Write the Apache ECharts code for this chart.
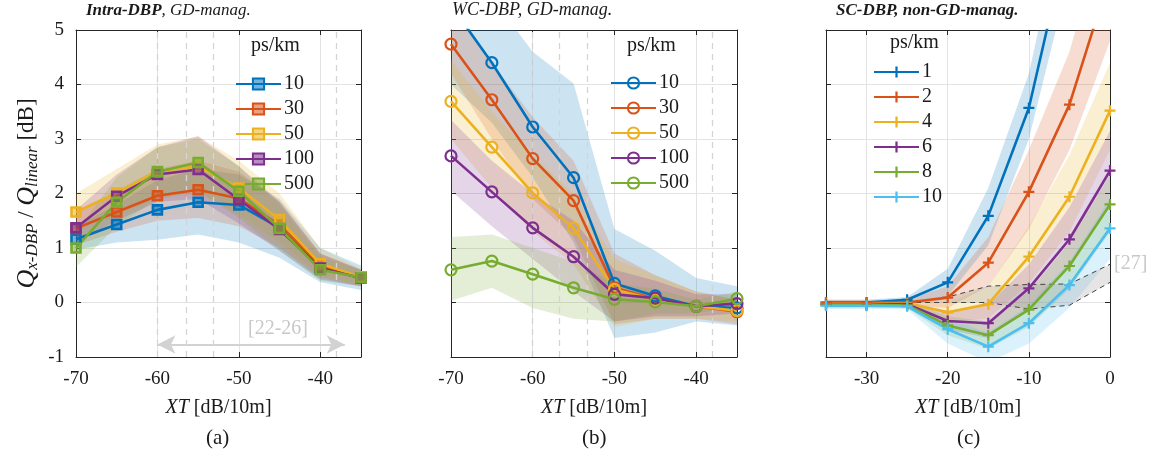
<!DOCTYPE html>
<html><head><meta charset="utf-8">
<script src="https://cdn.jsdelivr.net/npm/echarts@6/dist/echarts.min.js"></script>
<style>html,body{margin:0;padding:0;background:#fff}#c{width:1160px;height:455px}</style>
</head><body><div id="c"></div>
<script>
// ---------------- data ----------------
const xA = [-70,-65,-60,-55,-50,-45,-40,-35];
const xC = [-35,-30,-25,-20,-15,-10,-5,0];
const namesAB = ['10','30','50','100','500'];
const namesC = ['1','2','4','6','8','10'];
const ticksAB = [-70,-60,-50,-40];
const ticksC = [-30,-20,-10,0];

// (a) Intra-DBP
const a10  = [1.16,1.43,1.70,1.84,1.79,1.37,0.65,0.47];
const a30  = [1.36,1.66,1.96,2.07,1.91,1.42,0.68,0.46];
const a50  = [1.66,2.01,2.41,2.50,2.10,1.52,0.71,0.47];
const a100 = [1.37,1.95,2.35,2.44,1.89,1.34,0.63,0.45];
const a500 = [1.00,1.84,2.40,2.57,2.04,1.36,0.60,0.46];
const a10Lo  = [0.97,1.10,1.15,1.25,1.10,0.82,0.37,0.23], a10Hi  = [1.40,1.80,2.25,2.45,2.35,1.90,1.00,0.68];
const a30Lo  = [1.05,1.30,1.50,1.55,1.40,1.00,0.45,0.30], a30Hi  = [1.65,2.05,2.45,2.60,2.40,1.85,0.90,0.60];
const a50Lo  = [1.30,1.60,1.90,2.00,1.60,1.10,0.50,0.32], a50Hi  = [2.00,2.45,2.90,3.05,2.60,2.00,1.00,0.62];
const a100Lo = [1.10,1.50,1.85,1.90,1.45,0.95,0.42,0.30], a100Hi = [1.70,2.35,2.85,3.05,2.50,1.85,0.90,0.60];
const a500Lo = [0.65,1.40,1.90,2.05,1.55,0.95,0.40,0.30], a500Hi = [1.30,2.30,2.85,3.00,2.50,1.80,0.85,0.60];

// (b) WC-DBP
const b10  = [5.45,4.40,3.22,2.29,0.35,0.12,-0.07,-0.10];
const b30  = [4.74,3.72,2.64,1.87,0.27,0.07,-0.07,-0.17];
const b50  = [3.69,2.85,2.01,1.36,0.24,0.05,-0.07,-0.15];
const b100 = [2.69,2.03,1.37,0.84,0.15,0.08,-0.07,-0.02];
const b500 = [0.60,0.76,0.52,0.27,0.06,0.01,-0.07,0.07];
const b10Lo  = [4.00,3.30,2.30,1.10,-0.65,-0.55,-0.35,-0.42], b10Hi  = [6.50,5.60,4.60,4.02,1.35,0.95,0.45,0.30];
const b30Lo  = [4.20,3.00,1.90,1.20,-0.40,-0.30,-0.30,-0.40], b30Hi  = [5.40,4.40,3.40,2.60,0.90,0.50,0.20,0.05];
const b50Lo  = [3.00,2.10,1.30,0.70,-0.45,-0.30,-0.30,-0.35], b50Hi  = [4.45,3.50,2.70,2.00,0.80,0.50,0.20,0.05];
const b100Lo = [2.05,1.40,0.80,0.20,-0.35,-0.25,-0.25,-0.20], b100Hi = [3.35,2.60,2.00,1.50,0.60,0.40,0.15,0.15];
const b500Lo = [0.03,0.27,-0.10,-0.30,-0.35,-0.20,-0.20,-0.05], b500Hi = [1.20,1.25,1.00,0.75,0.35,0.25,0.05,0.20];

// (c) SC-DBP
const c1  = [0.00,0.00,0.05,0.37,1.59,3.57,6.80,9.50];
const c2  = [0.00,0.00,0.00,0.09,0.73,2.03,3.63,6.00];
const c4  = [-0.03,-0.03,-0.02,-0.18,-0.03,0.84,1.94,3.52];
const c6  = [-0.04,-0.04,-0.03,-0.34,-0.38,0.26,1.16,2.42];
const c8  = [-0.05,-0.05,-0.05,-0.42,-0.60,-0.13,0.67,1.80];
const c10 = [-0.06,-0.06,-0.07,-0.49,-0.81,-0.38,0.32,1.36];
const c1Lo  = [-0.05,-0.05,0.00,0.12,1.05,3.00,6.00,8.60],  c1Hi  = [0.05,0.05,0.10,0.62,2.10,4.20,7.60,10.40];
const c2Lo  = [-0.05,-0.05,-0.05,-0.10,0.30,1.35,2.80,4.80], c2Hi  = [0.05,0.05,0.05,0.30,1.20,2.80,4.60,7.20];
const c4Lo  = [-0.08,-0.08,-0.07,-0.35,-0.30,0.35,1.30,2.80], c4Hi = [0.03,0.03,0.03,0.00,0.30,1.40,2.70,4.40];
const c6Lo  = [-0.08,-0.08,-0.08,-0.50,-0.65,-0.10,0.70,1.75], c6Hi = [0.02,0.02,0.02,-0.15,-0.05,0.70,1.75,3.15];
const c8Lo  = [-0.10,-0.10,-0.10,-0.60,-0.85,-0.45,0.25,1.30], c8Hi = [0.00,0.00,0.00,-0.25,-0.35,0.20,1.10,2.35];
const c10Lo = [-0.12,-0.12,-0.13,-0.75,-1.10,-0.75,-0.10,0.80], c10Hi = [0.00,0.00,0.00,-0.30,-0.55,-0.05,0.75,1.90];

// reference [27] region in (c)
const ref27X  = [-25,-20,-15,-10,-5,0];
const ref27Hi = [0.00,0.10,0.30,0.33,0.34,0.70];
const ref27Lo = [0.00,0.00,0.00,-0.12,-0.05,0.37];
// reference [22-26] range in (a), dashed marks in (a),(b)
const ref2226 = [-60,-37];
const ref2226Y = -0.77;
const dashA = [-60,-56.5,-53.2,-38];
const dashB = [-60,-56.7,-53.3,-38];

// ---------------- style ----------------
const FONT = 'Liberation Serif';
const TXT = '#1a1a1a';
const COLORS = ['#0072BD','#D95319','#EDB120','#7E2F8E','#77AC30','#4DBEEE'];
const PLUS = 'path://M4 0H6V4H10V6H6V10H4V6H0V4H4Z';
const grids = [
  {left:76, top:30, width:285, height:327},
  {left:451, top:30, width:286, height:327},
  {left:826, top:30, width:284, height:327}
];

function rgba(hex, a){
  const n = parseInt(hex.slice(1),16);
  return 'rgba('+((n>>16)&255)+','+((n>>8)&255)+','+(n&255)+','+a+')';
}

const xAxes = [], yAxes = [], series = [];
function axesFor(gi, min, max, ticks, showY){
  const ax = {type:'value', gridIndex:gi, min:min, max:max,
    axisLine:{show:true, onZero:false, lineStyle:{color:'#262626', width:1}},
    axisTick:{show:true, inside:true, length:5, customValues:ticks, lineStyle:{color:'#262626'}},
    axisLabel:{show:true, customValues:ticks, margin:13, fontFamily:FONT, fontSize:19, color:TXT},
    splitLine:{show:true, lineStyle:{color:'#e3e3e3', width:1}},
    name:'{i|XT} [dB/10m]', nameLocation:'middle', nameGap:41,
    nameTextStyle:{fontFamily:FONT, fontSize:20, color:TXT, rich:{i:{fontFamily:FONT, fontSize:20, fontStyle:'italic', color:TXT}}}
  };
  const axTop = {type:'value', gridIndex:gi, min:min, max:max, position:'top',
    axisLine:{show:true, onZero:false, lineStyle:{color:'#262626'}},
    axisTick:{show:true, inside:true, length:5, customValues:ticks, lineStyle:{color:'#262626'}},
    axisLabel:{show:false, customValues:ticks}, splitLine:{show:false}};
  xAxes.push(ax, axTop);
  const ay = {type:'value', gridIndex:gi, min:-1, max:5, interval:1,
    axisLine:{show:true, onZero:false, lineStyle:{color:'#262626'}},
    axisTick:{show:true, inside:true, length:5, lineStyle:{color:'#262626'}},
    axisLabel:{show:showY, margin:12, fontFamily:FONT, fontSize:19, color:TXT},
    splitLine:{show:true, lineStyle:{color:'#e3e3e3', width:1}}
  };
  if (showY){
    ay.name = '{q|Q}{s|x-DBP}{n| / }{q|Q}{s|linear}{n| [dB]}';
    ay.nameLocation = 'middle';
    ay.nameGap = 35;
    ay.nameRotate = 90;
    ay.nameTextStyle = {fontFamily:FONT, color:TXT, rich:{
      q:{fontFamily:FONT, fontSize:26, fontStyle:'italic', color:TXT, lineHeight:28},
      s:{fontFamily:FONT, fontSize:17, fontStyle:'italic', color:TXT, verticalAlign:'bottom', lineHeight:17, padding:[10,0,0,0]},
      n:{fontFamily:FONT, fontSize:23, color:TXT, lineHeight:28}
    }};
  }
  const ayR = {type:'value', gridIndex:gi, min:-1, max:5, interval:1, position:'right',
    axisLine:{show:true, onZero:false, lineStyle:{color:'#262626'}},
    axisTick:{show:true, inside:true, length:5, lineStyle:{color:'#262626'}},
    axisLabel:{show:false}, splitLine:{show:false}};
  yAxes.push(ay, ayR);
}
axesFor(0, -70, -35, ticksAB, true);
axesFor(1, -70, -35, ticksAB, false);
axesFor(2, -35, 0, ticksC, false);

function pairs(xs, v){ return xs.map((x,i)=>[x, v[i]]); }
function addBand(gi, xs, lo, hi, fill, z){
  series.push({type:'custom', xAxisIndex:gi*2, yAxisIndex:gi*2, silent:true, z:z||1, clip:true, animation:false,
    data: xs.map((x,i)=>[x, lo[i], hi[i]]),
    encode:{x:0, y:[1,2]},
    renderItem: function(params, api){
      if (params.dataIndex !== 0) return null;
      const pts = [];
      for (let i=0;i<xs.length;i++) pts.push(api.coord([xs[i], hi[i]]));
      for (let i=xs.length-1;i>=0;i--) pts.push(api.coord([xs[i], lo[i]]));
      const cs = params.coordSys;
      return {type:'polygon', shape:{points:pts}, style:{fill:fill},
        clipPath:{type:'rect', shape:{x:cs.x, y:cs.y, width:cs.width, height:cs.height}}};
    }});
}
function addLine(gi, xs, v, color, name, kind){
  const s = {type:'line', name:name, xAxisIndex:gi*2, yAxisIndex:gi*2, data:pairs(xs, v),
    lineStyle:{color:color, width:2.6}, z:5, animation:false, showAllSymbol:true};
  if (kind==='sq'){ s.symbol='rect'; s.symbolSize=9; s.itemStyle={color:rgba(color,0.55), borderColor:color, borderWidth:2.6}; }
  else if (kind==='o'){ s.symbol='circle'; s.symbolSize=11; s.itemStyle={color:'rgba(255,255,255,0)', borderColor:color, borderWidth:2.2}; }
  else { s.symbol=PLUS; s.symbolSize=11; s.itemStyle={color:color}; }
  series.push(s);
}
function dashSeries(gi, xs){
  series.push({type:'line', xAxisIndex:gi*2, yAxisIndex:gi*2, data:[], z:2, animation:false,
    markLine:{silent:true, symbol:'none', label:{show:false}, animation:false,
      lineStyle:{type:[6,5], color:'#d4d4d4', width:1.3},
      data: xs.map(x=>({xAxis:x}))}});
}

// panel (a)
const aVals = [a10,a30,a50,a100,a500], aLo=[a10Lo,a30Lo,a50Lo,a100Lo,a500Lo], aHi=[a10Hi,a30Hi,a50Hi,a100Hi,a500Hi];
dashSeries(0, dashA);
aVals.forEach((v,k)=> addBand(0, xA, aLo[k], aHi[k], rgba(COLORS[k],0.2)));
series.push({type:'line', xAxisIndex:0, yAxisIndex:0, data:[], z:2, animation:false,
  markLine:{silent:true, animation:false, symbol:['arrow','arrow'], symbolSize:[14,18], label:{show:false},
    lineStyle:{type:'solid', color:'#d2d2d2', width:2},
    data:[[{coord:[ref2226[0], ref2226Y]},{coord:[ref2226[1], ref2226Y]}]]}});
aVals.forEach((v,k)=> addLine(0, xA, v, COLORS[k], 'a'+namesAB[k], 'sq'));

// panel (b)
const bVals = [b10,b30,b50,b100,b500], bLo=[b10Lo,b30Lo,b50Lo,b100Lo,b500Lo], bHi=[b10Hi,b30Hi,b50Hi,b100Hi,b500Hi];
dashSeries(1, dashB);
bVals.forEach((v,k)=> addBand(1, xA, bLo[k], bHi[k], rgba(COLORS[k],0.2)));
bVals.forEach((v,k)=> addLine(1, xA, v, COLORS[k], 'b'+namesAB[k], 'o'));

// panel (c)
const cVals = [c1,c2,c4,c6,c8,c10], cLo=[c1Lo,c2Lo,c4Lo,c6Lo,c8Lo,c10Lo], cHi=[c1Hi,c2Hi,c4Hi,c6Hi,c8Hi,c10Hi];
cVals.forEach((v,k)=> addBand(2, xC, cLo[k], cHi[k], rgba(COLORS[k],0.2)));
addBand(2, ref27X, ref27Lo, ref27Hi, 'rgba(150,150,150,0.25)', 2);
series.push({type:'line', xAxisIndex:4, yAxisIndex:4, data:pairs(ref27X, ref27Hi), symbol:'none', z:3, animation:false,
  lineStyle:{color:'#444', width:1, type:[5,4]}, silent:true});
series.push({type:'line', xAxisIndex:4, yAxisIndex:4, data:pairs(ref27X, ref27Lo), symbol:'none', z:3, animation:false,
  lineStyle:{color:'#444', width:1, type:[5,4]}, silent:true});
cVals.forEach((v,k)=> addLine(2, xC, v, COLORS[k], 'c'+namesC[k], 'plus'));

function legendFor(prefix, names, left, top){
  return {data:names.map(n=>prefix+n), orient:'vertical', left:left, top:top, padding:0,
    itemWidth:45, itemHeight:14, itemGap:5, selectedMode:false,
    formatter:n=>n.slice(1),
    textStyle:{fontFamily:FONT, fontSize:20, color:TXT, lineHeight:20, padding:[0,0,0,-2]}};
}

const gtext = (x, y, text, opts) => Object.assign({type:'text', left:x, top:y, silent:true,
  style:Object.assign({text:text, font:'20px "Liberation Serif"', fill:TXT}, opts||{})});

const option = {
  backgroundColor:'#fff',
  animation:false,
  grid: grids,
  xAxis: xAxes,
  yAxis: yAxes,
  legend: [legendFor('a', namesAB, 235, 74), legendFor('b', namesAB, 610, 73), legendFor('c', namesC, 873, 62)],
  series: series,
  graphic: [
    {type:'text', left:86, top:2, style:{text:'{b|Intra-DBP}{r|, GD-manag.}', rich:{
      b:{font:'italic bold 17px "Liberation Serif"', fill:TXT}, r:{font:'italic 17px "Liberation Serif"', fill:TXT}}}},
    {type:'text', left:452, top:1, style:{text:'WC-DBP, GD-manag.', font:'italic 18px "Liberation Serif"', fill:TXT}},
    {type:'text', left:836, top:2, style:{text:'SC-DBP, non-GD-manag.', font:'italic bold 17px "Liberation Serif"', fill:TXT}},
    gtext(251, 36, 'ps/km'), gtext(627, 36, 'ps/km'), gtext(890, 33, 'ps/km'),
    gtext(206, 428, '(a)', {font:'21px "Liberation Serif"'}),
    gtext(582, 428, '(b)', {font:'21px "Liberation Serif"'}),
    gtext(957, 428, '(c)', {font:'21px "Liberation Serif"'}),
    gtext(248, 319, '[22-26]', {fill:'#c8c8c8'}),
    gtext(1114, 254, '[27]', {fill:'#c8c8c8'})
  ]
};
const chart = echarts.init(document.getElementById('c'), null, {renderer:'canvas'});
chart.setOption(option);
</script></body></html>
